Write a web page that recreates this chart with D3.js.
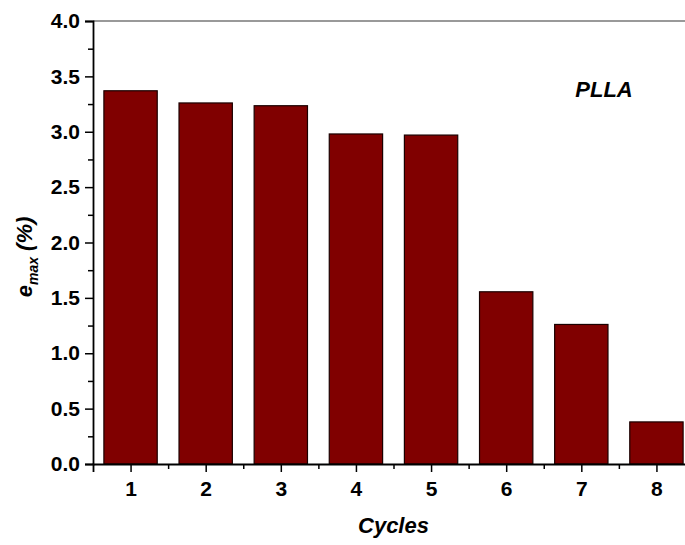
<!DOCTYPE html>
<html>
<head>
<meta charset="utf-8">
<script src="https://cdn.jsdelivr.net/npm/d3@7"></script>
<style>
  body { margin: 0; background: #fff; }
  text { font-family: "Liberation Sans", Arial, sans-serif; font-weight: bold; }
</style>
</head>
<body>
<svg id="chart"></svg>
<script>
var cycles = [1, 2, 3, 4, 5, 6, 7, 8]
var emax = [3.37, 3.26, 3.235, 2.98, 2.97, 1.555, 1.26, 0.38]
var yTicks = [0, 0.5, 1.0, 1.5, 2.0, 2.5, 3.0, 3.5, 4.0]
var yMinor = [0.25, 0.75, 1.25, 1.75, 2.25, 2.75, 3.25, 3.75]
var xMinor = [1.5, 2.5, 3.5, 4.5, 5.5, 6.5, 7.5]

var dims = {
    width: 685,
    height: 545,
    margin: { top: 21, bottom: 81, left: 93, right: -9 }
}

var svg = d3.select("#chart")
            .attr("width", dims.width)
            .attr("height", dims.height)

var x0 = dims.margin.left, x1 = dims.width - dims.margin.right
var y0 = dims.height - dims.margin.bottom, y1 = dims.margin.top

var xScale = d3.scaleLinear().domain([0.5, 8.5]).range([x0, x1])
var yScale = d3.scaleLinear().domain([0, 4]).range([y0, y1])

var barW = (xScale(2) - xScale(1)) * 0.71

// top frame line
svg.append("line")
   .attr("x1", x0).attr("x2", x1)
   .attr("y1", y1).attr("y2", y1)
   .style("stroke", "#777").style("stroke-width", 1.5)

// bars
svg.selectAll("rect.bar")
   .data(cycles)
   .enter().append("rect")
   .attr("class", "bar")
   .attr("x", (d, i) => xScale(d) - barW / 2)
   .attr("width", barW)
   .attr("y", (d, i) => yScale(emax[i]))
   .attr("height", (d, i) => y0 - yScale(emax[i]))
   .style("fill", "#800000")
   .style("stroke", "#1a0000")
   .style("stroke-width", 1.2)

// y axis
var yAxis = svg.append("g")
   .attr("transform", `translate(${x0},0)`)
   .call(d3.axisLeft(yScale).tickValues(yTicks).tickFormat(d3.format(".1f")).tickSize(8).tickPadding(5))
yAxis.selectAll("text").style("font-size", "21px").attr("fill", "#000")
yAxis.select(".domain").style("stroke-width", 1.8)
yAxis.selectAll(".tick line").style("stroke-width", 1.5)

svg.append("g")
   .attr("transform", `translate(${x0},0)`)
   .call(d3.axisLeft(yScale).tickValues(yMinor).tickFormat("").tickSize(5))
   .call(g => g.select(".domain").remove())
   .selectAll("line").style("stroke-width", 1.5)

// x axis
var xAxis = svg.append("g")
   .attr("transform", `translate(0,${y0})`)
   .call(d3.axisBottom(xScale).tickValues(cycles).tickFormat(d3.format("d")).tickSize(8).tickPadding(9))
xAxis.selectAll("text").style("font-size", "21px").attr("fill", "#000")
xAxis.select(".domain").style("stroke-width", 1.8)
xAxis.selectAll(".tick line").style("stroke-width", 1.5)

svg.append("g")
   .attr("transform", `translate(0,${y0})`)
   .call(d3.axisBottom(xScale).tickValues(xMinor).tickFormat("").tickSize(5))
   .call(g => g.select(".domain").remove())
   .selectAll("line").style("stroke-width", 1.5)

// axis titles
svg.append("text")
   .attr("x", (x0 + x1) / 2)
   .attr("y", 533)
   .attr("text-anchor", "middle")
   .style("font-size", "22px")
   .style("font-style", "italic")
   .text("Cycles")

var yt = svg.append("text")
   .attr("transform", "translate(32,257) rotate(-90)")
   .attr("text-anchor", "middle")
   .style("font-size", "22px")
   .style("font-style", "italic")
yt.append("tspan").text("e")
yt.append("tspan").attr("dy", 6).style("font-size", "14px").text("max")
yt.append("tspan").attr("dy", -6).text(" (%)")

svg.append("text")
   .attr("x", 604)
   .attr("y", 97)
   .attr("text-anchor", "middle")
   .style("font-size", "22px")
   .style("font-style", "italic")
   .text("PLLA")
</script>
</body>
</html>
